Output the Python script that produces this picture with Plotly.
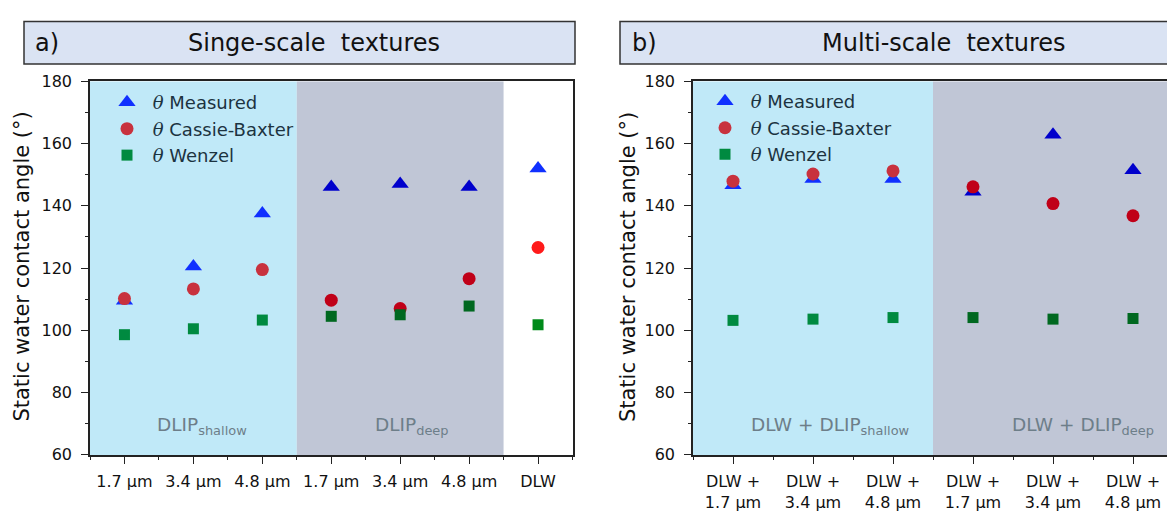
import plotly.graph_objects as go

# ---------------- data ----------------
cats_a = ["1.7 µm", "3.4 µm", "4.8 µm", "1.7 µm", "3.4 µm", "4.8 µm", "DLW"]
measured_a = [109.5, 120.5, 137.5, 146.0, 147.0, 146.0, 152.0]
cassie_a = [110.2, 113.3, 119.5, 109.7, 107.0, 116.6, 126.6]
wenzel_a = [98.6, 100.5, 103.3, 104.5, 105.0, 107.8, 101.8]

cats_b = ["DLW +<br>1.7 µm", "DLW +<br>3.4 µm", "DLW +<br>4.8 µm",
          "DLW +<br>1.7 µm", "DLW +<br>3.4 µm", "DLW +<br>4.8 µm"]
measured_b = [146.6, 148.6, 148.6, 144.5, 162.8, 151.4]
cassie_b = [147.9, 150.2, 151.2, 146.1, 140.7, 136.8]
wenzel_b = [103.2, 103.6, 104.1, 104.1, 103.6, 103.8]

series_names = ["Measured", "Cassie-Baxter", "Wenzel"]
region_labels_a = ["DLIP<sub>shallow</sub>", "DLIP<sub>deep</sub>"]
region_labels_b = ["DLW + DLIP<sub>shallow</sub>", "DLW + DLIP<sub>deep</sub>"]
panel_titles = ["Singe-scale  textures", "Multi-scale  textures"]
panel_tags = ["a)", "b)"]
y_title = "Static water contact angle (°)"

# ---------------- style ----------------
W, H = 1167, 514
FONT = "DejaVu Sans"
BLUE_BG = "#c0e9f8"
GRAY_BG = "#c0c6d6"
HEAD_BG = "#dae3f3"
AX = "#222222"
LEG_TXT = "#1c3340"
REG_TXT = "#6d7e89"

# per-point colours (tinted by background region)
col_meas_a = ["#1030ff"] * 3 + ["#0000cc"] * 3 + ["#1030ff"]
col_cb_a = ["#c8323e"] * 3 + ["#c00018"] * 3 + ["#ff1a1a"]
col_wz_a = ["#008a40"] * 3 + ["#006820"] * 3 + ["#008a1a"]
col_meas_b = ["#1030ff"] * 3 + ["#0000cc"] * 3
col_cb_b = ["#c8323e"] * 3 + ["#c00018"] * 3
col_wz_b = ["#008a40"] * 3 + ["#006820"] * 3


def px_x(p):
    return p / W


def px_y(p):
    return 1 - p / H


def leg_label(name):
    return ('\u00a0<span style="font-family:DejaVu Serif"><i>θ</i></span> ' + name)


fig = go.Figure()

xa = list(range(len(cats_a)))
xb = list(range(len(cats_b)))

specs = [
    ("x", "y", "legend", xa, [measured_a, cassie_a, wenzel_a], [col_meas_a, col_cb_a, col_wz_a]),
    ("x2", "y2", "legend2", xb, [measured_b, cassie_b, wenzel_b], [col_meas_b, col_cb_b, col_wz_b]),
]
symbols = ["triangle-up", "circle", "square"]
sizes = [15, 13, 11]

for xr, yr, lg, xs, ys_list, cols in specs:
    for name, ys, col, sym, sz in zip(series_names, ys_list, cols, symbols, sizes):
        fig.add_trace(go.Scatter(
            x=xs, y=ys, mode="markers", name=leg_label(name),
            xaxis=xr, yaxis=yr, legend=lg,
            marker=dict(symbol=sym, size=sz, color=col, line=dict(width=0)),
            hoverinfo="skip",
        ))

# axis geometry (pixels)
a_left, a_right = 90, 572.5
b_left = 693
y_top, y_bot = 75, 463
b_step = 80
b_max = -0.5 + (W - b_left) / b_step

tickfont = dict(family=FONT, size=16, color="#111111")

common_x = dict(showgrid=False, zeroline=False, showline=True, linecolor=AX, linewidth=1.5,
                ticks="outside", ticklen=7, tickwidth=1.2, tickcolor=AX, tickfont=tickfont,
                fixedrange=True)
common_y = dict(showgrid=False, zeroline=False, showline=True, linecolor=AX, linewidth=1.5,
                ticks="outside", ticklen=7, tickwidth=1.2, tickcolor=AX, tickfont=tickfont,
                range=[60, 180], tickmode="linear", tick0=60, dtick=20,
                minor=dict(dtick=10, tick0=60, ticks="outside", ticklen=3.5, tickwidth=1.2, tickcolor=AX),
                ticklabelstandoff=6, fixedrange=True)

fig.update_layout(
    xaxis=dict(common_x, domain=[px_x(a_left), px_x(a_right)], range=[-0.5, len(cats_a) - 0.5],
               tickmode="array", tickvals=xa, ticktext=cats_a, mirror=True, anchor="y",
               minor=dict(tickvals=[i - 0.5 for i in range(len(cats_a) + 1)], ticks="outside",
                          ticklen=3.5, tickwidth=1.2, tickcolor=AX),
               ticklabelstandoff=4),
    yaxis=dict(common_y, domain=[px_y(y_bot), px_y(y_top)], mirror=True, anchor="x"),
    xaxis2=dict(common_x, domain=[px_x(b_left), 1.0], range=[-0.5, b_max],
                tickmode="array", tickvals=xb, ticktext=cats_b, mirror=True, anchor="y2",
                minor=dict(tickvals=[i - 0.5 for i in range(len(cats_b) + 1)], ticks="outside",
                           ticklen=3.5, tickwidth=1.2, tickcolor=AX),
                ticklabelstandoff=4),
    yaxis2=dict(common_y, domain=[px_y(y_bot), px_y(y_top)], mirror=False, anchor="x2"),
)

legend_common = dict(font=dict(family=FONT, size=18, color=LEG_TXT), bgcolor="rgba(0,0,0,0)",
                     borderwidth=0, xanchor="left", yanchor="top", itemsizing="trace",
                     tracegroupgap=0)
fig.update_layout(
    legend=dict(legend_common, x=px_x(107), y=px_y(78)),
    legend2=dict(legend_common, x=px_x(705), y=px_y(77)),
    showlegend=True,
)

shapes = []
# region backgrounds
shapes.append(dict(type="rect", xref="x", yref="y", x0=-0.5, x1=2.5, y0=60, y1=180,
                   fillcolor=BLUE_BG, line=dict(width=0), layer="below"))
shapes.append(dict(type="rect", xref="x", yref="y", x0=2.5, x1=5.5, y0=60, y1=180,
                   fillcolor=GRAY_BG, line=dict(width=0), layer="below"))
shapes.append(dict(type="rect", xref="x2", yref="y2", x0=-0.5, x1=2.5, y0=60, y1=180,
                   fillcolor=BLUE_BG, line=dict(width=0), layer="below"))
shapes.append(dict(type="rect", xref="x2", yref="y2", x0=2.5, x1=b_max, y0=60, y1=180,
                   fillcolor=GRAY_BG, line=dict(width=0), layer="below"))
# header boxes
shapes.append(dict(type="rect", xref="paper", yref="paper", x0=px_x(24), x1=px_x(575),
                   y0=px_y(57), y1=px_y(13), fillcolor=HEAD_BG, line=dict(color="#333333", width=1.5)))
shapes.append(dict(type="rect", xref="paper", yref="paper", x0=px_x(620), x1=px_x(W + 20),
                   y0=px_y(57), y1=px_y(13), fillcolor=HEAD_BG, line=dict(color="#333333", width=1.5)))
fig.update_layout(shapes=shapes)

ann = []
hfont = dict(family=FONT, size=24, color="#111111")
ann.append(dict(text=panel_tags[0], x=px_x(33), y=px_y(35), xref="paper", yref="paper",
                xanchor="left", yanchor="middle", showarrow=False, font=hfont))
ann.append(dict(text=panel_titles[0], x=px_x(314), y=px_y(35), xref="paper", yref="paper",
                xanchor="center", yanchor="middle", showarrow=False, font=hfont))
ann.append(dict(text=panel_tags[1], x=px_x(630), y=px_y(35), xref="paper", yref="paper",
                xanchor="left", yanchor="middle", showarrow=False, font=hfont))
ann.append(dict(text=panel_titles[1], x=px_x(944), y=px_y(35), xref="paper", yref="paper",
                xanchor="center", yanchor="middle", showarrow=False, font=hfont))
# y titles
for xc in (22.5, 628):
    ann.append(dict(text=y_title, x=px_x(xc), y=px_y(268), xref="paper", yref="paper",
                    xanchor="center", yanchor="middle", textangle=-90, showarrow=False,
                    font=dict(family=FONT, size=21, color="#111111")))
# region labels
rfont = dict(family=FONT, size=18.5, color=REG_TXT)
for txt, xc in zip(region_labels_a, (202, 412)):
    ann.append(dict(text=txt, x=px_x(xc), y=px_y(433), xref="paper", yref="paper",
                    xanchor="center", yanchor="middle", showarrow=False, font=rfont))
for txt, xc in zip(region_labels_b, (830, 1083)):
    ann.append(dict(text=txt, x=px_x(xc), y=px_y(433), xref="paper", yref="paper",
                    xanchor="center", yanchor="middle", showarrow=False, font=rfont))
fig.update_layout(annotations=ann)

fig.update_layout(width=W, height=H, margin=dict(l=0, r=0, t=0, b=0),
                  paper_bgcolor="white", plot_bgcolor="white",
                  font=dict(family=FONT, color="#111111"))

fig.write_html("out.html", include_plotlyjs=True, config={"displayModeBar": False},
               post_script="document.body.style.margin='0px';document.body.style.overflow='hidden';")
